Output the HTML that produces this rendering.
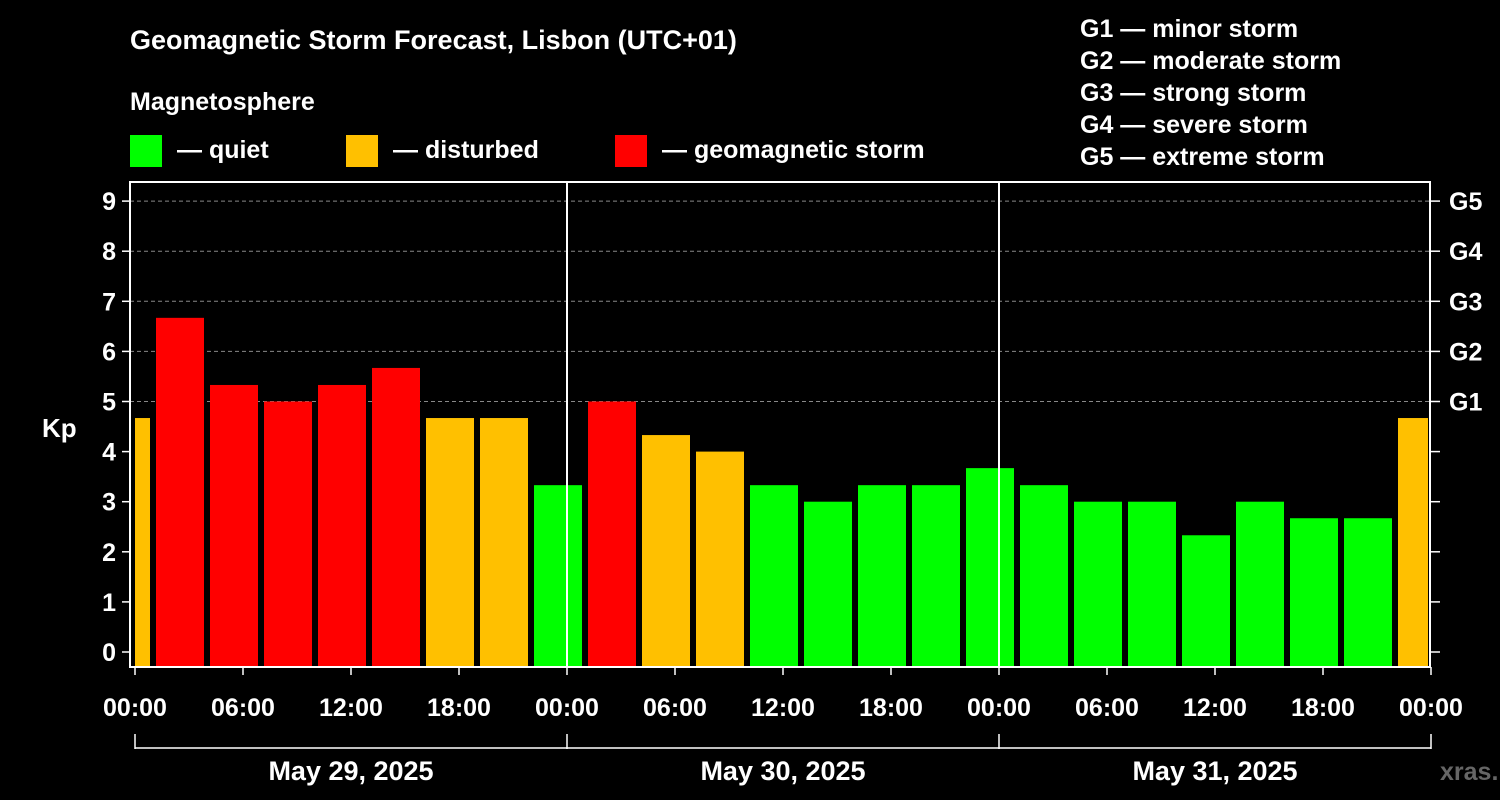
<!DOCTYPE html>
<html><head><meta charset="utf-8"><style>
html,body{margin:0;padding:0;background:#000;}
svg{display:block;font-family:"Liberation Sans",Arial,sans-serif;font-weight:bold;}
</style></head><body>
<svg id="chart" width="1500" height="800" viewBox="0 0 1500 800">
<rect x="0" y="0" width="1500" height="800" fill="#000"/>
<text x="130" y="49" fill="#fff" font-size="27">Geomagnetic Storm Forecast, Lisbon (UTC+01)</text>
<text x="130" y="110" fill="#fff" font-size="25">Magnetosphere</text>
<g><rect x="130" y="135" width="32" height="32" fill="#00ff00"/><text x="177" y="158" fill="#fff" font-size="25">— quiet</text></g>
<g><rect x="346" y="135" width="32" height="32" fill="#ffc000"/><text x="393" y="158" fill="#fff" font-size="25">— disturbed</text></g>
<g><rect x="615" y="135" width="32" height="32" fill="#ff0000"/><text x="662" y="158" fill="#fff" font-size="25">— geomagnetic storm</text></g>
<g fill="#fff" font-size="25">
<text x="1080" y="37">G1 — minor storm</text>
<text x="1080" y="69">G2 — moderate storm</text>
<text x="1080" y="101">G3 — strong storm</text>
<text x="1080" y="133">G4 — severe storm</text>
<text x="1080" y="165">G5 — extreme storm</text>
</g>
<text x="42" y="437" fill="#fff" font-size="26">Kp</text>
<g id="grid"></g><g id="bars"></g><g id="axes"></g>
<text x="1440" y="780" fill="#666" font-size="25">xras.ru</text>
</svg>
<script>
const kpValues=[4.67,6.67,5.33,5,5.33,5.67,4.67,4.67,3.33,5,4.33,4,3.33,3,3.33,3.33,3.67,3.33,3,3,2.33,3,2.67,2.67,4.67];
const xTickLabels=["00:00","06:00","12:00","18:00","00:00","06:00","12:00","18:00","00:00","06:00","12:00","18:00","00:00"];
const dateLabels=["May 29, 2025","May 30, 2025","May 31, 2025"];
const yTickLabels=["0","1","2","3","4","5","6","7","8","9"];
const gLabels=["G1","G2","G3","G4","G5"];
const NS="http://www.w3.org/2000/svg";
const L=130,R=1430,T=182,B=667,X0=135,PXH=18;
const x=h=>X0+h*PXH;
const y=v=>652-v*50.1;
function mk(tag,attrs,parent,txt){const e=document.createElementNS(NS,tag);for(const k in attrs)e.setAttribute(k,attrs[k]);if(txt!==undefined)e.textContent=txt;parent.appendChild(e);return e;}
const grid=document.getElementById('grid'),bars=document.getElementById('bars'),axes=document.getElementById('axes');
for(let v=5;v<=9;v++){const g=mk('line',{x1:L,x2:R,y1:y(v),y2:y(v),stroke:'#888','stroke-dasharray':'4,3','stroke-width':1},grid);

}
kpValues.forEach((v,i)=>{
 let x1=x(i*3-2)+3,x2=x(i*3+1)-3;
 x1=Math.max(x1,X0);x2=Math.min(x2,R-2);
 const c=v>=5?'#ff0000':(v>=4?'#ffc000':'#00ff00');
 const r=mk('rect',{x:x1,y:y(v),width:x2-x1,height:B-y(v),fill:c},bars);
 
 
});
const box=mk('rect',{x:L,y:T,width:R-L,height:B-T,fill:'none',stroke:'#fff','stroke-width':2},axes);


[24,48].forEach(h=>{const l=mk('line',{x1:x(h),x2:x(h),y1:T,y2:B,stroke:'#fff','stroke-width':2},axes);

});
yTickLabels.forEach((t,i)=>{
 mk('line',{x1:L-8,x2:L,y1:y(i),y2:y(i),stroke:'#fff','stroke-width':1.5},axes);
 mk('line',{x1:R,x2:R+10,y1:y(i),y2:y(i),stroke:'#fff','stroke-width':1.5},axes);
 const tx=mk('text',{x:L-14,y:y(i)+9,fill:'#fff','font-size':25,'text-anchor':'end'},axes,t);
 
 
});
gLabels.forEach((t,i)=>{const tx=mk('text',{x:1449,y:y(i+5)+9,fill:'#fff','font-size':25},axes,t);
 
 });
xTickLabels.forEach((t,i)=>{
 mk('line',{x1:x(i*6),x2:x(i*6),y1:B,y2:B+8,stroke:'#fff','stroke-width':1.5},axes);
 const tx=mk('text',{x:x(i*6),y:716,fill:'#fff','font-size':25,'text-anchor':'middle'},axes,t);
 
 
});
mk('line',{x1:x(0),x2:x(72),y1:748,y2:748,stroke:'#fff','stroke-width':1.5},axes);
[0,24,48,72].forEach(h=>mk('line',{x1:x(h),x2:x(h),y1:734,y2:749,stroke:'#fff','stroke-width':1.5},axes));
dateLabels.forEach((t,i)=>{const tx=mk('text',{x:x(i*24+12),y:780,fill:'#fff','font-size':27,'text-anchor':'middle'},axes,t);
 
 });
</script>
</body></html>
